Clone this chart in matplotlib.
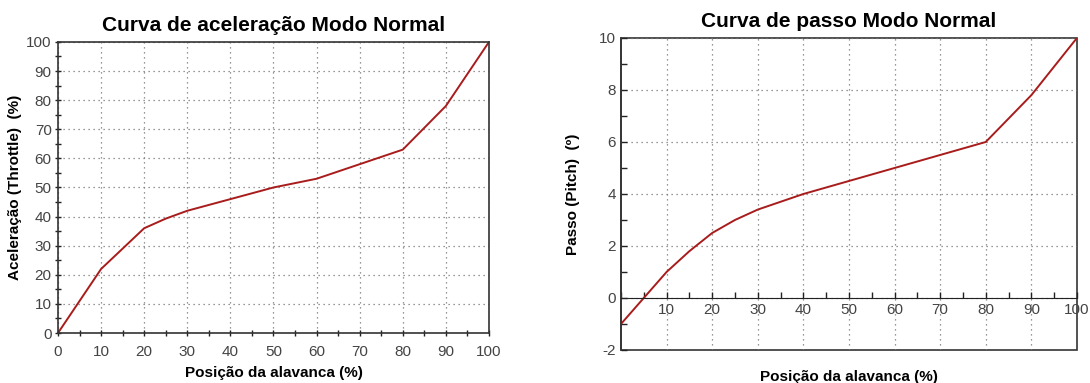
import matplotlib.pyplot as plt
from matplotlib.patches import Rectangle
from matplotlib.ticker import MultipleLocator

plt.rcParams['font.family'] = ['Liberation Sans', 'DejaVu Sans']
plt.rcParams['axes.unicode_minus'] = False

# curva de aceleração (throttle)
pos_thr = [0, 10, 20, 25, 30, 40, 50, 60, 70, 80, 90, 100]
thr = [0, 22, 36, 39.3, 42, 46, 50, 53, 58, 63, 78, 100]

# curva de passo (pitch)
pos_pitch = [0, 5, 10, 15, 20, 25, 30, 40, 50, 60, 70, 80, 90, 100]
pitch = [-1, 0, 1, 1.8, 2.5, 3.0, 3.4, 4.0, 4.5, 5.0, 5.5, 6.0, 7.8, 10]

line_col = '#a81c1c'
grid_kw = dict(color='#777777', linestyle=(0, (1, 3)), linewidth=0.9)
tick_col = '#444444'

fig = plt.figure(figsize=(10.9, 3.83), dpi=100)

# ---------- esquerda ----------
ax1 = fig.add_axes([0.0532, 0.1305, 0.3954, 0.760])
ax1.plot(pos_thr, thr, color=line_col, lw=1.4)
ax1.set_xlim(0, 100)
ax1.set_ylim(0, 100)
ax1.xaxis.set_major_locator(MultipleLocator(10))
ax1.yaxis.set_major_locator(MultipleLocator(10))
ax1.xaxis.set_minor_locator(MultipleLocator(5))
ax1.yaxis.set_minor_locator(MultipleLocator(5))
ax1.tick_params(which='both', direction='inout', length=5, width=1, colors='#222222',
                labelsize=11, labelcolor=tick_col)
ax1.tick_params(axis='x', pad=6)
ax1.tick_params(axis='y', pad=2)
ax1.tick_params(which='both', top=False, right=False)
ax1.grid(True, which='major', **grid_kw)
for s in ax1.spines.values():
    s.set_color('#333333')
    s.set_linewidth(1.2)
ax1.set_title('Curva de aceleração Modo Normal', fontsize=15, fontweight='bold', pad=8)
ax1.set_xlabel('Posição da alavanca (%)', fontsize=11, fontweight='bold', labelpad=5)
ax1.set_ylabel('Aceleração (Throttle)  (%)', fontsize=11, fontweight='bold', labelpad=3)

# ---------- direita ----------
ax2 = fig.add_axes([0.5697, 0.0862, 0.4183, 0.8146])
ax2.plot(pos_pitch, pitch, color=line_col, lw=1.4)
ax2.set_xlim(0, 100)
ax2.set_ylim(-2, 10)
ax2.set_xticks(range(10, 101, 10))
ax2.xaxis.set_minor_locator(MultipleLocator(5))
ax2.yaxis.set_major_locator(MultipleLocator(2))
ax2.yaxis.set_minor_locator(MultipleLocator(1))
for s in ['top', 'right']:
    ax2.spines[s].set_visible(False)
ax2.spines['bottom'].set_position(('data', 0))
ax2.spines['bottom'].set_color('#222222')
ax2.spines['left'].set_color('#333333')
ax2.spines['left'].set_linewidth(1.2)
ax2.add_patch(Rectangle((0, 0), 1, 1, transform=ax2.transAxes, fill=False,
                        edgecolor='#333333', linewidth=1.2, clip_on=False))
ax2.tick_params(which='both', direction='in', length=4, width=1, colors='#222222',
                labelsize=11, labelcolor=tick_col)
ax2.grid(True, which='major', **grid_kw)
ax2.set_title('Curva de passo Modo Normal', fontsize=15, fontweight='bold', pad=8)
ax2.set_xlabel('Posição da alavanca (%)', fontsize=11, fontweight='bold')
ax2.xaxis.set_label_coords(0.5, -0.065)
ax2.set_ylabel('Passo (Pitch)  (º)', fontsize=11, fontweight='bold', labelpad=14)

fig.savefig('out.png', dpi=100)
